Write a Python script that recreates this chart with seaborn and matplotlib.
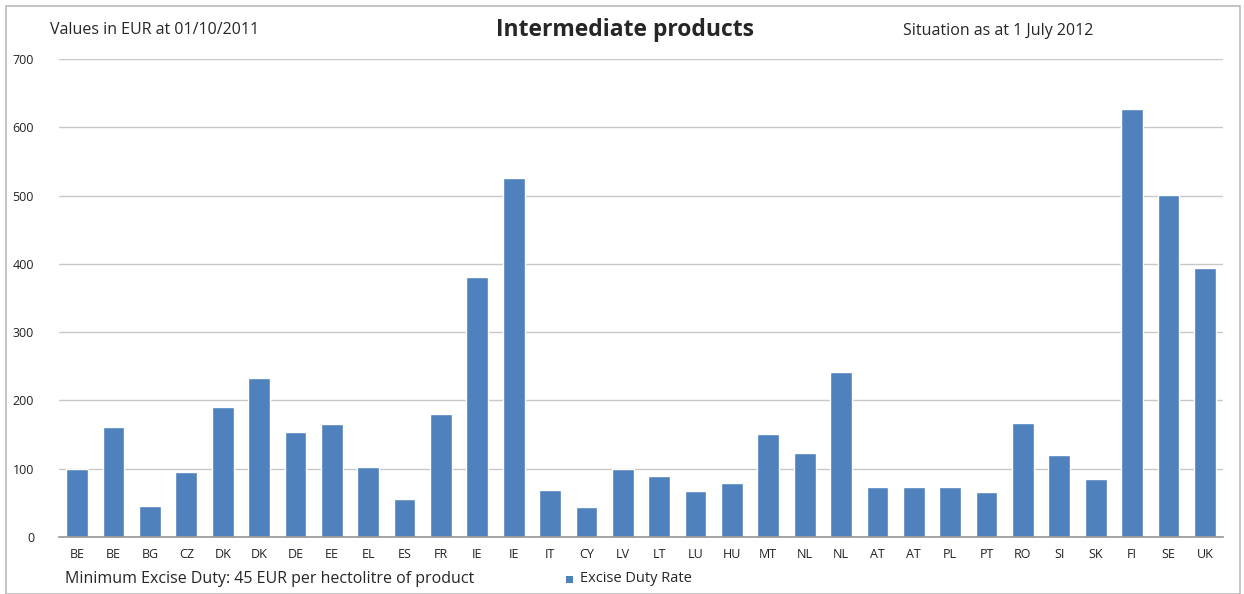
import matplotlib
matplotlib.use("Agg")
import matplotlib.pyplot as plt
import seaborn as sns
import pandas as pd
from matplotlib.patches import Rectangle

countries = ["BE", "BE", "BG", "CZ", "DK", "DK", "DE", "EE", "EL", "ES", "FR", "IE", "IE", "IT", "CY",
             "LV", "LT", "LU", "HU", "MT", "NL", "NL", "AT", "AT", "PL", "PT", "RO", "SI", "SK", "FI", "SE", "UK"]
rates = [100, 161, 45, 95, 190, 233, 154, 165, 102, 56, 180, 381, 526, 69, 44,
         99, 89, 67, 79, 151, 123, 241, 73, 73, 73, 66, 167, 120, 85, 627, 501, 394]
yticks = [0, 100, 200, 300, 400, 500, 600, 700]

sns.set_theme(style="white")
plt.rcParams['font.family'] = ['Open Sans', 'DejaVu Sans']

df = pd.DataFrame({"pos": range(len(rates)), "rate": rates})

fig = plt.figure(figsize=(12.44, 5.94), dpi=100)
ax = fig.add_axes([59/1244, 1 - 537/594, (1223 - 59)/1244, (537 - 59)/594])
sns.barplot(data=df, x="pos", y="rate", color="#4F81BD", saturation=1, width=0.6, ax=ax)
ax.set_xticks(range(len(countries)))
ax.set_xticklabels(countries, fontsize=9, color="#222222")
ax.set_ylim(0, 700)
ax.set_yticks(yticks)
ax.set_yticklabels([str(v) for v in yticks], fontsize=9, color="#222222")
ax.set_xlim(-0.5, len(rates) - 0.5)
ax.yaxis.grid(True, color="#c8c8c8", linewidth=1)
ax.set_axisbelow(True)
for s in ["left", "right", "top"]:
    ax.spines[s].set_visible(False)
ax.spines["bottom"].set_color("#999999")
ax.tick_params(axis="both", length=0)
ax.tick_params(axis="x", pad=8)
ax.tick_params(axis="y", pad=18)
ax.set_xlabel("")
ax.set_ylabel("")

fig.text(50/1244, 1 - 30/594, "Values in EUR at 01/10/2011", fontsize=11.5, va="center", ha="left")
fig.text(625/1244, 1 - 30/594, "Intermediate products", fontsize=16.5, fontweight="bold", va="center", ha="center")
fig.text(903/1244, 1 - 31/594, "Situation as at 1 July 2012", fontsize=11.5, va="center", ha="left")
fig.text(65/1244, 1 - 579/594, "Minimum Excise Duty: 45 EUR per hectolitre of product", fontsize=11.5, va="center", ha="left")
fig.patches.append(Rectangle((566/1244, 1 - 583/594), 7/1244, 7/594, transform=fig.transFigure,
                             facecolor="#4F81BD", edgecolor="none"))
fig.text(580/1244, 1 - 579/594, "Excise Duty Rate", fontsize=10.5, va="center", ha="left")
fig.patches.append(Rectangle((6/1244, 0.0), 1234/1244, 1 - 6/594, transform=fig.transFigure,
                             facecolor="none", edgecolor="#bbbbbb", linewidth=1.2))

fig.savefig("out.png", dpi=100)
